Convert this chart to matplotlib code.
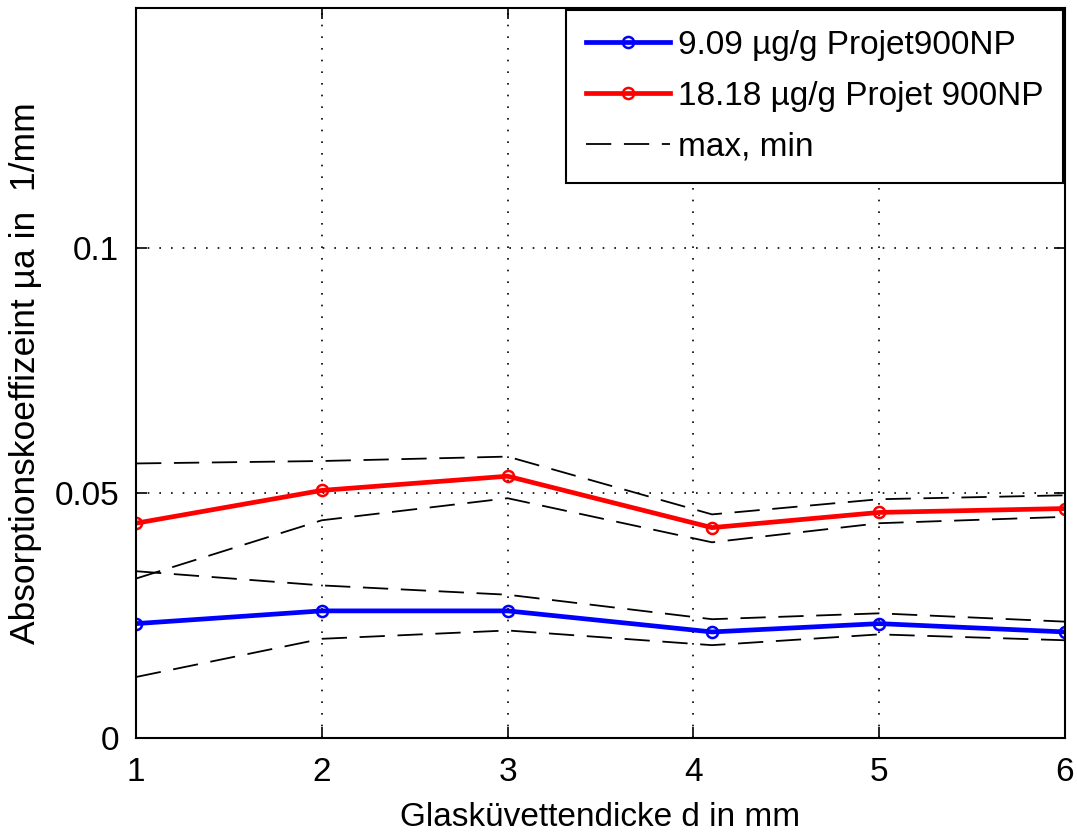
import matplotlib; matplotlib.use('Agg')

import matplotlib.pyplot as plt
import numpy as np

plt.rcParams['font.family'] = ['Liberation Sans', 'DejaVu Sans']

# Glaskuevettendicke d in mm
d = [1, 2, 3, 4.1, 5, 6]

mua_909 = [0.0233, 0.0259, 0.0259, 0.0216, 0.0233, 0.0216]
mua_1818 = [0.0438, 0.0505, 0.0534, 0.0429, 0.0460, 0.0468]

max_909 = [0.0340, 0.0311, 0.0292, 0.0242, 0.0254, 0.0237]
min_909 = [0.0124, 0.0202, 0.0219, 0.0189, 0.0211, 0.0199]
max_1818 = [0.0560, 0.0565, 0.0574, 0.0456, 0.0487, 0.0495]
min_1818 = [0.0325, 0.0444, 0.0489, 0.0399, 0.0438, 0.0451]

xticks = [1, 2, 3, 4, 5, 6]
yticks = [0, 0.05, 0.1]
ytick_labels = ['0', '0.05', '0.1']

fs = 24

fig = plt.figure(figsize=(10.77, 8.39), dpi=100)
ax = fig.add_axes([0.1263, 0.1207, 0.9889 - 0.1263, 0.9905 - 0.1207])

l1, = ax.plot(d, mua_909, '-o', color='blue', lw=3.4, ms=8, mfc='none', mew=1.8,
              label='9.09 µg/g Projet900NP')
l2, = ax.plot(d, mua_1818, '-o', color='red', lw=3.4, ms=8, mfc='none', mew=1.8,
              label='18.18 µg/g Projet 900NP')
l3, = ax.plot(d, max_909, color='black', lw=1.3, dashes=(14, 7), label='max, min')
for yy in [min_909, max_1818, min_1818]:
    ax.plot(d, yy, color='black', lw=1.3, dashes=(14, 7))

ax.set_xlim(1, 6)
ax.set_ylim(0, 0.149)
ax.set_xticks(xticks)
ax.set_yticks(yticks)
ax.set_yticklabels(ytick_labels)
ax.grid(True, color='black', linestyle=(0, (1, 6)), lw=1.2)
ax.tick_params(direction='in', length=8, width=1.2, labelsize=fs, top=True, right=True)
ax.tick_params(axis='x', pad=14)
ax.tick_params(axis='y', pad=12)
for s in ax.spines.values():
    s.set_linewidth(1.5)

ax.set_xlabel('Glasküvettendicke d in mm', fontsize=fs, labelpad=10)
ax.set_ylabel('Absorptionskoeffizeint µa in  1/mm', fontsize=25.5, labelpad=9)

leg = ax.legend(handles=[l1, l2, l3], loc='upper right', bbox_to_anchor=(1, 1),
                borderaxespad=0.05, fontsize=fs, fancybox=False, framealpha=1,
                edgecolor='black', handlelength=2.5, labelspacing=0.6,
                handletextpad=0.25, borderpad=0.6)
leg.get_frame().set_linewidth(1.5)

fig.savefig('out.png', dpi=100)
